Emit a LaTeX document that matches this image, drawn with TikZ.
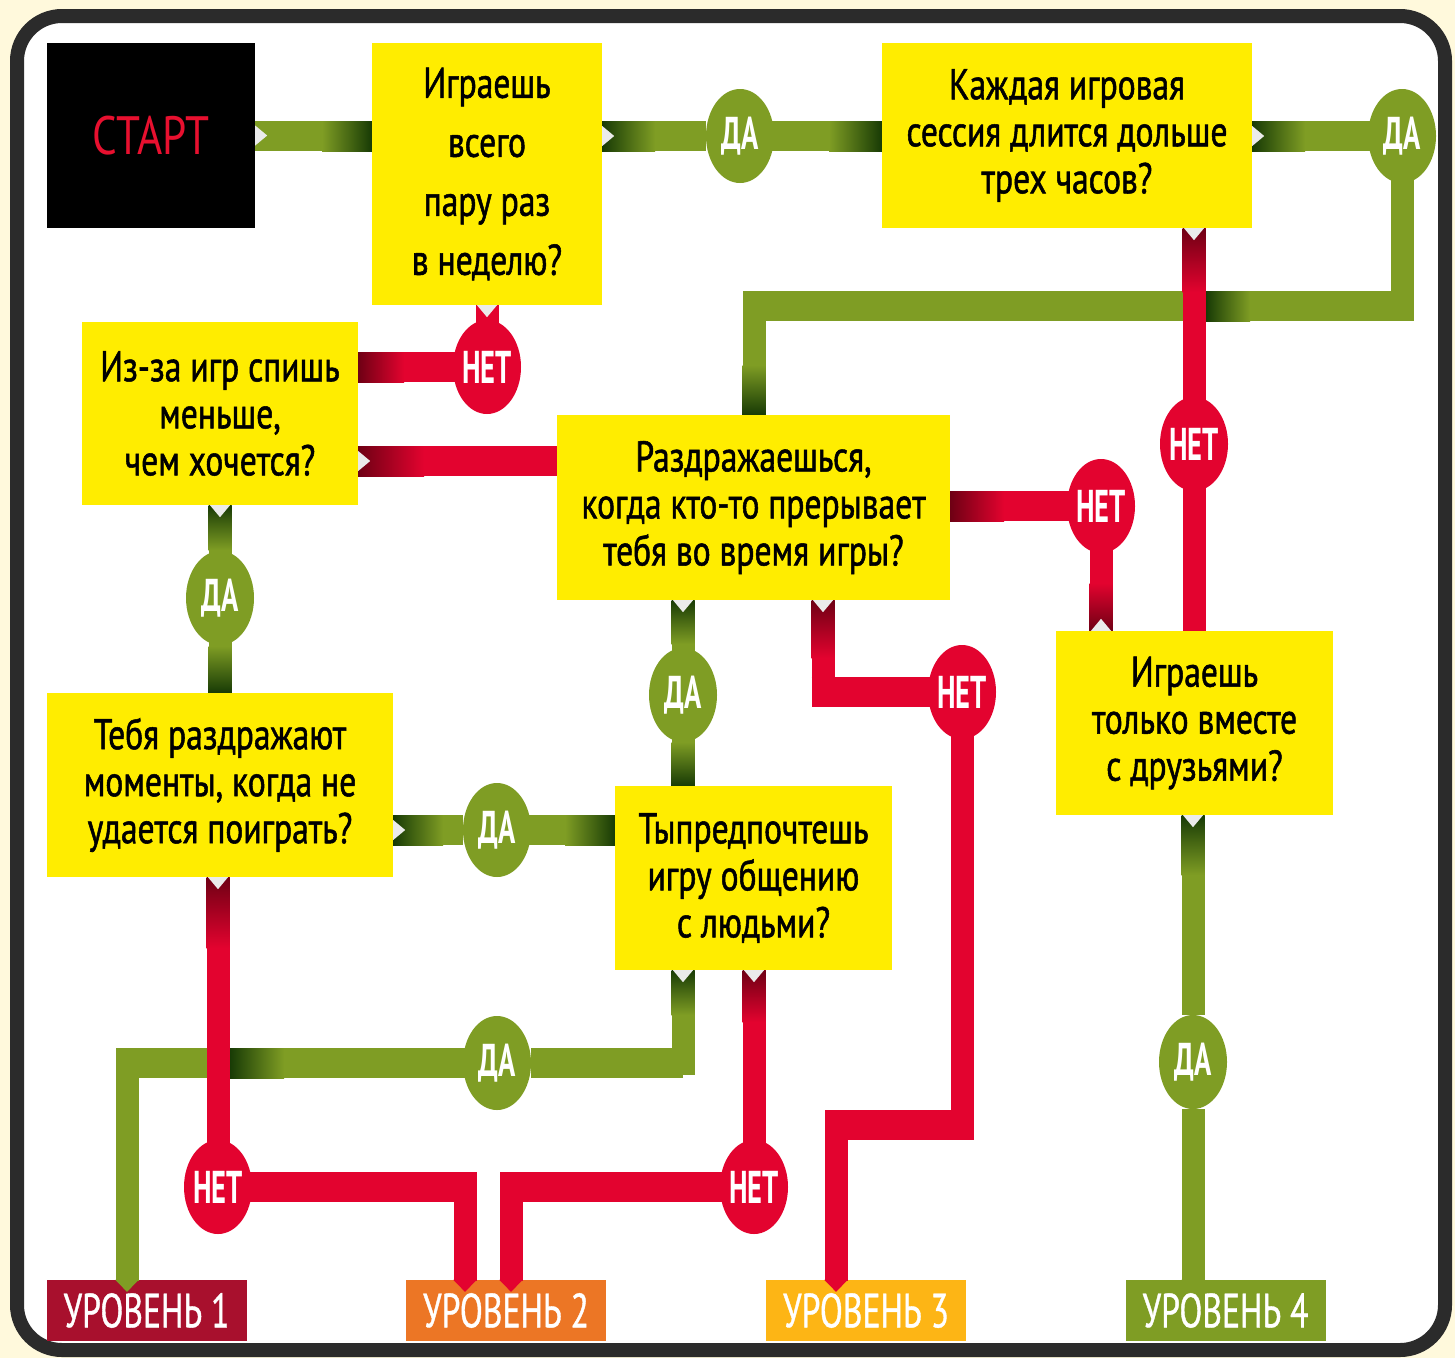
\documentclass[tikz,border=0pt]{standalone}
\usepackage{fontspec}
\setmainfont{PT Sans}[FakeStretch=0.78, FakeBold=1.2]
\newfontfamily\circfont{PT Sans Bold}[FakeStretch=0.62]
\newfontfamily\lvlfont{PT Sans}[FakeStretch=0.7, FakeBold=0.8]
\newfontfamily\startfont{PT Sans}[FakeStretch=0.8]
\usetikzlibrary{shapes.geometric, arrows.meta}

\definecolor{cream}{HTML}{FFF9DC}
\definecolor{frameclr}{HTML}{2B2B2B}
\definecolor{qyellow}{HTML}{FFED00}
\definecolor{yesgreen}{HTML}{7F9D24}
\definecolor{yesdark}{HTML}{173A05}
\definecolor{nored}{HTML}{E3032F}
\definecolor{nodark}{HTML}{6E0014}
\definecolor{startred}{HTML}{E8102F}
\definecolor{lvlone}{HTML}{A8102D}
\definecolor{lvltwo}{HTML}{EC7625}
\definecolor{lvlthree}{HTML}{FDB515}
\definecolor{lvlfour}{HTML}{7F9D24}

\pgfdeclarelayer{back}
\pgfdeclarelayer{bg}
\pgfsetlayers{back,bg,main}

\tikzset{
  qbox/.style={fill=qyellow, inner sep=0pt, align=center, font=\fontsize{43pt}{47pt}\selectfont},
  startbox/.style={fill=black, text=startred, minimum width=208pt, minimum height=185pt, font=\startfont\fontsize{54pt}{54pt}\selectfont},
  yes/.style={ellipse, fill=yesgreen, minimum width=68pt, minimum height=94pt, inner sep=0pt, text=white, font=\circfont\fontsize{46pt}{46pt}\selectfont},
  no/.style={yes, fill=nored},
  lvl/.style={minimum width=200pt, minimum height=61pt, inner sep=0pt, text=white, font=\lvlfont\fontsize{48pt}{48pt}\selectfont},
  gband/.style={draw=yesgreen, line width=23pt, line cap=rect},
  rband/.style={draw=nored, line width=23pt, line cap=rect},
  wide/.style={line width=30pt, line cap=butt, shorten <=-11.5pt, shorten >=-11.5pt},
  tipin/.style={line cap=butt, -{Triangle[length=12pt, width=23pt]}},
  chev/.pic={\fill[white!92!black] (0,-10) -- (12,0) -- (0,10) -- cycle;}
}

\begin{document}
\begin{tikzpicture}[x=1pt, y=-1pt]
  \useasboundingbox (0,0) rectangle (1455,1358);
  \begin{pgfonlayer}{back}
    \fill[cream] (0,0) rectangle (1455,1358);
    \draw[frameclr, line width=14pt, rounded corners=45pt, fill=white] (17,16) rectangle (1445,1350);
    % Levels
    \node[lvl, fill=lvlone] (lv1) at (146.5,1310.5) {УРОВЕНЬ 1};
    \node[lvl, fill=lvltwo] (lv2) at (506,1310.5) {УРОВЕНЬ 2};
    \node[lvl, fill=lvlthree] (lv3) at (866,1310.5) {УРОВЕНЬ 3};
    \node[lvl, fill=lvlfour] (lv4) at (1225.5,1310.5) {УРОВЕНЬ 4};
  \end{pgfonlayer}

  % Questions
  \node[startbox] (start) at (151,135.5) {СТАРТ};
  \node[qbox, minimum width=230pt, minimum height=262pt, font={\fontsize{43pt}{59pt}\selectfont}] (often) at (487,174) {Играешь\\всего\\пару раз\\в неделю?};
  \node[qbox, minimum width=370pt, minimum height=185pt] (long) at (1067,135.5) {Каждая игровая\\сессия длится дольше\\трех часов?};
  \node[qbox, minimum width=276pt, minimum height=183pt] (sleep) at (220,413.5) {Из-за игр спишь\\меньше,\\чем хочется?};
  \node[qbox, minimum width=393pt, minimum height=185pt] (irritate) at (753.5,507.5) {Раздражаешься,\\когда кто-то прерывает\\тебя во время игры?};
  \node[qbox, minimum width=346pt, minimum height=184pt] (cantplay) at (220,785) {Тебя раздражают\\моменты, когда не\\удается поиграть?};
  \node[qbox, minimum width=277pt, minimum height=184pt] (prefer) at (753.5,878) {Тыпредпочтешь\\игру общению\\с людьми?};
  \node[qbox, minimum width=277pt, minimum height=184pt] (friends) at (1194.5,723) {Играешь\\только вместе\\с друзьями?};

  % Answers
  \node[yes] (y1) at (740,136) {\makebox[0pt]{ДА}};
  \node[yes] (y2) at (1402,136) {\makebox[0pt]{ДА}};
  \node[yes] (y3) at (220,598) {\makebox[0pt]{ДА}};
  \node[yes] (y4) at (683,695) {\makebox[0pt]{ДА}};
  \node[yes] (y5) at (497,830) {\makebox[0pt]{ДА}};
  \node[yes] (y6) at (497,1063) {\makebox[0pt]{ДА}};
  \node[yes] (y7) at (1193,1062) {\makebox[0pt]{ДА}};
  \node[no] (n1) at (487,367) {\makebox[0pt]{НЕТ}};
  \node[no] (n2) at (1194,444) {\makebox[0pt]{НЕТ}};
  \node[no] (n3) at (1101,506) {\makebox[0pt]{НЕТ}};
  \node[no] (n4) at (962,692) {\makebox[0pt]{НЕТ}};
  \node[no] (n5) at (218,1187) {\makebox[0pt]{НЕТ}};
  \node[no] (n6) at (754,1187) {\makebox[0pt]{НЕТ}};

  % Turns
  \coordinate (k3) at (754,306);
  \coordinate (k6) at (400,461);
  \coordinate (k10a) at (823,692);
  \coordinate (k10b) at (836,1125);
  \coordinate (k12) at (465,1187);
  \coordinate (k13) at (511,1187);
  \coordinate (k14) at (683,1063);
  \coordinate (k14b) at (127,1063);

  \begin{pgfonlayer}{bg}
    % Yes paths
    \draw[gband, wide] (start.east) -- (start.east -| often.west);
    \draw[gband, wide] (often.east |- y1) -- (y1) -- (y1 -| long.west);
    \draw[gband, wide] (y2 -| long.east) -- (y2);
    \draw[gband] (y2) -- (y2 |- k3);
    \draw[gband, wide] (y2 |- k3) -- (k3);
    \draw[gband] (k3) -- (k3 |- irritate.north);
    \draw[gband] (sleep.south) -- (y3) -- (cantplay.north);
    \draw[gband] (irritate.south -| y4) -- (y4) -- (prefer.north -| y4);
    \draw[gband, wide] (cantplay.east |- y5) -- (y5) -- (y5 -| prefer.west);
    \draw[gband] (prefer.south -| k14) -- (k14);
    \draw[gband, wide] (k14) -- (y6) -- (k14b);
    \draw[gband, tipin] (k14b) -- ([yshift=-12pt]k14b |- lv1.north);
    \draw[gband, tipin] (friends.south -| y7) -- (y7) -- ([yshift=-12pt]y7 |- lv4.north);
    % Shading near the boxes
    \shade[left color=yesgreen, right color=yesdark] (322,121) rectangle (372,151);
    \shade[left color=yesdark, right color=yesgreen] (602,121) rectangle (655,151);
    \shade[left color=yesgreen, right color=yesdark] (829,121) rectangle (882,151);
    \shade[left color=yesdark, right color=yesgreen] (1252,121) rectangle (1305,151);
    \shade[top color=yesgreen, bottom color=yesdark] (742.5,365) rectangle (765.5,415);
    \shade[left color=yesdark, right color=yesgreen] (1205.5,291) rectangle (1250,321);
    \shade[top color=yesdark, bottom color=yesgreen] (208.5,505) rectangle (231.5,550);
    \shade[top color=yesgreen, bottom color=yesdark] (208.5,646) rectangle (231.5,693);
    \shade[top color=yesdark, bottom color=yesgreen] (671.5,600) rectangle (694.5,644);
    \shade[top color=yesgreen, bottom color=yesdark] (671.5,742) rectangle (694.5,786);
    \shade[left color=yesdark, right color=yesgreen] (393,815) rectangle (443,845);
    \shade[left color=yesgreen, right color=yesdark] (565,815) rectangle (615,845);
    \shade[top color=yesdark, bottom color=yesgreen] (671.5,970) rectangle (694.5,1015);
    \shade[left color=yesdark, right color=yesgreen] (229.5,1048) rectangle (284,1078);
    \shade[top color=yesdark, bottom color=yesgreen] (1181.5,815) rectangle (1204.5,875);

    % No paths
    \draw[rband] (long.south -| n2) -- (n2) -- (n2 |- friends.north);
    \draw[rband] (often.south) -- (n1);
    \draw[rband, wide] (n1) -- (n1 -| sleep.east);
    \draw[rband, wide] (k6 -| sleep.east) -- (k6 -| irritate.west);
    \draw[rband, wide] (irritate.east |- n3) -- (n3);
    \draw[rband] (n3) -- (n3 |- friends.north);
    \draw[rband] (irritate.south -| k10a) -- (k10a);
    \draw[rband, wide] (k10a) -- (n4);
    \draw[rband] (n4) -- (n4 |- k10b);
    \draw[rband, wide] (n4 |- k10b) -- (k10b);
    \draw[rband, tipin] (k10b) -- ([yshift=-12pt]k10b |- lv3.north);
    \draw[rband] (cantplay.south -| n5) -- (n5);
    \draw[rband, wide] (n5) -- (k12);
    \draw[rband, tipin] (k12) -- ([yshift=-12pt]k12 |- lv2.north);
    \draw[rband] (prefer.south -| n6) -- (n6);
    \draw[rband, wide] (n6) -- (k13);
    \draw[rband, tipin] (k13) -- ([yshift=-12pt]k13 |- lv2.north);
    % Shading near the boxes
    \shade[top color=nodark, bottom color=nored] (1182.5,228) rectangle (1205.5,292);
    \shade[left color=nodark, right color=nored] (358,352) rectangle (404,382);
    \shade[left color=nodark, right color=nored] (358,446) rectangle (424,476);
    \shade[left color=nodark, right color=nored] (950,491) rectangle (1004,521);
    \shade[top color=nored, bottom color=nodark] (1089.5,583) rectangle (1112.5,631);
    \shade[top color=nodark, bottom color=nored] (811.5,600) rectangle (834.5,658);
    \shade[top color=nodark, bottom color=nored] (206.5,877) rectangle (229.5,948);
    \shade[top color=nodark, bottom color=nored] (742.5,970) rectangle (765.5,1022);
  \end{pgfonlayer}

  % Exits
  \pic at (start.east) {chev};
  \pic at (often.east |- y1) {chev};
  \pic at (y2 -| long.east) {chev};
  \pic[rotate=-90] at (long.south -| n2) {chev};
  \pic[rotate=-90] at (often.south) {chev};
  \pic at (k6 -| sleep.east) {chev};
  \pic[rotate=-90] at (sleep.south) {chev};
  \pic[rotate=-90] at (irritate.south -| y4) {chev};
  \pic[rotate=-90] at (irritate.south -| k10a) {chev};
  \pic[rotate=90] at (n3 |- friends.north) {chev};
  \pic at (cantplay.east |- y5) {chev};
  \pic[rotate=-90] at (cantplay.south -| n5) {chev};
  \pic[rotate=-90] at (prefer.south -| k14) {chev};
  \pic[rotate=-90] at (prefer.south -| n6) {chev};
  \pic[rotate=-90] at (friends.south -| y7) {chev};
\end{tikzpicture}
\end{document}
